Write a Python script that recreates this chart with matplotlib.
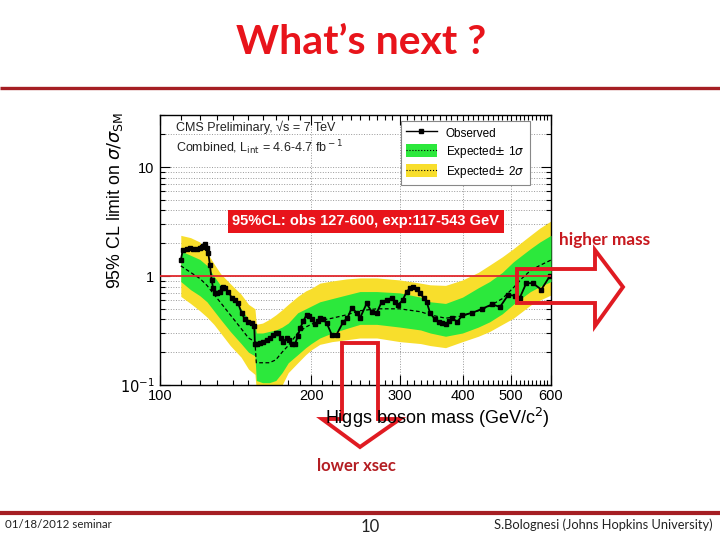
import numpy as np
import matplotlib
matplotlib.use('Agg')
import matplotlib.pyplot as plt
from matplotlib.lines import Line2D
from matplotlib.patches import Patch, Polygon
from matplotlib.ticker import NullFormatter

# Observed limit (GeV, sigma/sigma_SM)
obs_mass = [110.0, 111.0, 113.0, 114.7, 116.5, 118.3, 120.0, 121.0, 122.0, 122.9,
            124.0, 124.8, 125.7, 126.7, 127.5, 128.6, 130.0, 131.6, 132.6, 133.7,
            135.0, 136.8, 138.9, 141.0, 143.1, 145.3, 147.5, 150.0, 152.1, 154.0,
            154.5, 156.0, 158.1, 160.5, 163.0, 165.5, 168.0, 170.0, 172.0, 174.0,
            176.0, 178.6, 180.5, 182.8, 185.6, 188.0, 190.0, 193.0, 195.8, 198.0,
            200.4, 203.5, 206.0, 208.3, 211.0, 214.7, 219.6, 224.6, 231.6, 236.0,
            240.7, 246.3, 250.0, 257.8, 263.8, 270.0, 276.2, 282.6, 289.0, 293.5,
            298.0, 304.0, 309.7, 314.5, 319.3, 324.0, 329.0, 334.8, 339.4, 344.6,
            352.6, 359.0, 364.5, 370.5, 376.0, 381.4, 390.5, 399.7, 418.5, 437.6,
            458.0, 475.0, 493.0, 508.0, 520.0, 535.7, 552.0, 574.0, 596.0]
obs_limit = [1.40, 1.72, 1.78, 1.81, 1.76, 1.78, 1.82, 1.85, 1.90, 1.98,
             1.80, 1.61, 1.26, 0.92, 0.78, 0.70, 0.70, 0.72, 0.78, 0.80,
             0.77, 0.72, 0.63, 0.60, 0.56, 0.46, 0.40, 0.38, 0.37, 0.35,
             0.236, 0.24, 0.244, 0.25, 0.26, 0.27, 0.29, 0.30, 0.30, 0.27,
             0.25, 0.27, 0.26, 0.24, 0.236, 0.28, 0.33, 0.39, 0.44, 0.43,
             0.40, 0.36, 0.39, 0.41, 0.40, 0.37, 0.29, 0.29, 0.38, 0.41,
             0.51, 0.46, 0.41, 0.56, 0.47, 0.46, 0.58, 0.60, 0.63, 0.58,
             0.545, 0.60, 0.72, 0.77, 0.80, 0.76, 0.70, 0.63, 0.58, 0.46,
             0.40, 0.38, 0.37, 0.36, 0.39, 0.41, 0.38, 0.436, 0.46, 0.50,
             0.55, 0.52, 0.67, 0.66, 0.63, 0.86, 0.86, 0.75, 0.99]

# Expected limit and bands
exp_mass = [110, 115, 120, 124, 128, 132, 138, 145, 150, 154.5, 155.5, 160, 165,
            170, 175, 180, 188, 195, 200, 208, 220, 235, 250, 270, 300, 330, 345,
            370, 400, 430, 453, 480, 505, 525, 546, 570, 600]
exp_median = [1.24, 1.08, 0.95, 0.82, 0.68, 0.57, 0.44, 0.33, 0.27, 0.25, 0.16, 0.16,
              0.16, 0.17, 0.20, 0.23, 0.30, 0.34, 0.36, 0.39, 0.41, 0.44, 0.48, 0.50,
              0.50, 0.47, 0.44, 0.41, 0.43, 0.48, 0.53, 0.62, 0.78, 0.95, 1.12, 1.25, 1.40]
one_up = [1.70, 1.55, 1.42, 1.25, 1.00, 0.82, 0.65, 0.50, 0.40, 0.36, 0.30, 0.30,
          0.31, 0.32, 0.34, 0.37, 0.46, 0.50, 0.53, 0.58, 0.62, 0.67, 0.72, 0.72,
          0.70, 0.64, 0.58, 0.56, 0.64, 0.78, 0.89, 1.08, 1.35, 1.55, 1.78, 2.05, 2.36]
one_dn = [0.89, 0.75, 0.66, 0.58, 0.48, 0.40, 0.31, 0.24, 0.20, 0.185, 0.11, 0.105,
          0.105, 0.11, 0.13, 0.16, 0.19, 0.22, 0.24, 0.27, 0.30, 0.33, 0.36, 0.36,
          0.34, 0.32, 0.30, 0.28, 0.30, 0.34, 0.38, 0.45, 0.55, 0.63, 0.72, 0.80, 0.89]
two_up = [2.36, 2.25, 2.05, 1.65, 1.30, 1.05, 0.85, 0.68, 0.55, 0.50, 0.36, 0.37,
          0.40, 0.44, 0.49, 0.55, 0.65, 0.73, 0.77, 0.86, 0.90, 0.94, 0.96, 0.96,
          0.92, 0.86, 0.83, 0.82, 0.92, 1.08, 1.26, 1.50, 1.78, 2.05, 2.36, 2.75, 3.20]
two_dn = [0.65, 0.56, 0.48, 0.42, 0.36, 0.30, 0.23, 0.18, 0.14, 0.125, 0.09, 0.085,
          0.085, 0.09, 0.10, 0.13, 0.16, 0.19, 0.21, 0.236, 0.25, 0.26, 0.27, 0.27,
          0.25, 0.24, 0.23, 0.22, 0.25, 0.28, 0.31, 0.36, 0.41, 0.47, 0.54, 0.60, 0.67]

x_ticks = [100, 200, 300, 400, 500, 600]
y_ticks = [0.1, 1, 10]
y_ticklabels = ['$10^{-1}$', '1', '10']

green = '#2CE83C'
yellow = '#F8DE2C'
red = '#E8141B'
darkred = '#A51E23'
plotfont = 'Liberation Sans'
slidefont = 'Lato'

fig = plt.figure(figsize=(7.2, 5.4), dpi=100)

# CMS limit plot
ax = fig.add_axes([160/720., 1 - 385/540., 391/720., 270/540.])
ax.set_xscale('log')
ax.set_yscale('log')
ax.fill_between(exp_mass, two_dn, two_up, color=yellow, lw=0, zorder=2)
ax.fill_between(exp_mass, one_dn, one_up, color=green, lw=0, zorder=3)
ax.plot(exp_mass, exp_median, color='k', ls=(0, (3, 2)), lw=0.9, zorder=4)
ax.plot(obs_mass, obs_limit, color='k', lw=1.3, marker='s', ms=3.3, zorder=5)
ax.axhline(1, color='#E0282D', lw=1.3, zorder=6)

ax.set_xlim(100, 600)
ax.set_ylim(0.1, 30)
ax.set_xticks(x_ticks, labels=[str(v) for v in x_ticks])
ax.set_xticks([m for m in range(110, 600, 10) if m % 100], minor=True)
ax.xaxis.set_minor_formatter(NullFormatter())
ax.set_yticks(y_ticks, labels=y_ticklabels)
ax.yaxis.set_minor_formatter(NullFormatter())
ax.tick_params(which='both', direction='in', top=True, right=True, width=0.8)
ax.tick_params(which='major', length=7, labelsize=10.5, pad=4)
ax.tick_params(axis='x', which='major', pad=3)
ax.tick_params(which='minor', length=3.5)
for lab in ax.get_xticklabels() + ax.get_yticklabels():
    lab.set_family(plotfont)
ax.grid(axis='x', which='major', color='#999999', ls=':', lw=0.7, zorder=1)
ax.grid(axis='y', which='both', color='#999999', ls=':', lw=0.7, zorder=1)
ax.set_axisbelow(True)
for s in ax.spines.values():
    s.set_linewidth(1.0)

ax.text(0.041, 0.955, 'CMS Preliminary, \u221As = 7 TeV', transform=ax.transAxes,
        fontsize=9, family=plotfont, va='center', color='#222222')
ax.text(0.041, 0.88, r'Combined, L$_{\rm int}$ = 4.6-4.7 fb$^{\rm -1}$', transform=ax.transAxes,
        fontsize=9, family=plotfont, va='center', color='#222222')
ax.text(257, 3.17, '95%CL: obs 127-600, exp:117-543 GeV', ha='center', va='center',
        fontsize=10.5, weight='bold', color='white', family=plotfont, zorder=7,
        bbox=dict(boxstyle='square,pad=0.3', fc=red, ec='none'))

dots = Line2D([], [], color='k', ls=':', lw=0.8)
handles = [Line2D([], [], color='k', marker='s', ms=3, lw=1),
           (Patch(fc=green, ec='none'), dots),
           (Patch(fc=yellow, ec='none'), dots)]
leg = ax.legend(handles, ['Observed', 'Expected$\\pm$ 1$\\sigma$', 'Expected$\\pm$ 2$\\sigma$'],
                loc='upper left', bbox_to_anchor=(0.6, 1.0), fancybox=False,
                framealpha=1, edgecolor='#888888', prop={'family': plotfont, 'size': 8.5},
                handlelength=2.6, handleheight=1.3, borderpad=0.45, labelspacing=0.35)
leg.get_frame().set_linewidth(0.8)
leg.set_zorder(8)

fig.text(115/720., 1 - 200/540., r'95% CL limit on $\sigma/\sigma_{\rm SM}$', rotation=90,
         ha='center', va='center', fontsize=12.8, family=plotfont)
fig.text(550/720., 1 - 418/540., r'Higgs boson mass (GeV/c$^{2}$)', ha='right', va='center',
         fontsize=13, family=plotfont)

# Slide overlay in pixel coordinates
ov = fig.add_axes([0, 0, 1, 1], facecolor='none')
ov.set_xlim(0, 720)
ov.set_ylim(540, 0)
ov.axis('off')

ov.text(361, 43, 'What\u2019s next ?', ha='center', va='center', fontsize=29.5,
        weight='bold', color=red, family=slidefont)
ov.plot([0, 720], [88, 88], color=darkred, lw=2.4, solid_capstyle='butt')
ov.plot([0, 720], [513, 513], color=darkred, lw=3, solid_capstyle='butt')

right_arrow = [(517, 269), (595, 269), (595, 250), (623, 287), (595, 326), (595, 303), (517, 303)]
down_arrow = [(342, 343), (378, 343), (378, 419), (400, 419), (360, 447), (322, 419), (342, 419)]
for pts in (right_arrow, down_arrow):
    ov.add_patch(Polygon(pts, closed=True, fill=False, ec='#E01B22', lw=2.8, joinstyle='miter'))

ov.text(605, 240, 'higher mass', ha='center', va='center', fontsize=12.4, weight='bold',
        color='#C8191F', family=slidefont)
ov.text(356, 466, 'lower xsec', ha='center', va='center', fontsize=12, weight='bold',
        color='#B41E23', family=slidefont)
ov.text(5, 525, '01/18/2012 seminar', ha='left', va='center', fontsize=8.3,
        color='#222222', family=slidefont)
ov.text(370, 527, '10', ha='center', va='center', fontsize=12, color='#222222', family=slidefont)
ov.text(713, 525, 'S.Bolognesi (Johns Hopkins University)', ha='right', va='center',
        fontsize=9.3, color='#222222', family=slidefont)

fig.savefig('out.png', dpi=100)
